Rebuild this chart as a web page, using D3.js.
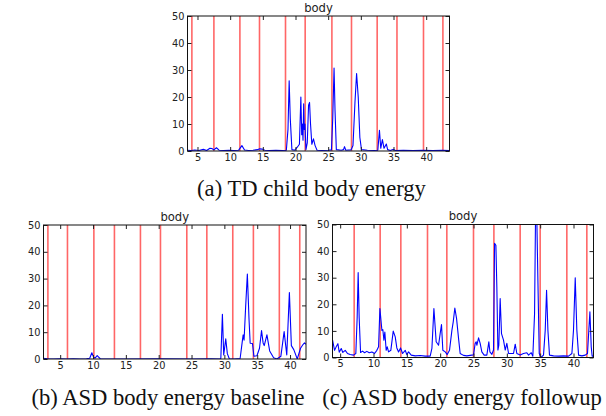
<!DOCTYPE html>
<html>
<head>
<meta charset="utf-8">
<script src="https://cdn.jsdelivr.net/npm/d3@7"></script>
<style>
  body { margin: 0; background: #fff; }
  .tick text { font-family: "DejaVu Sans", sans-serif; font-size: 9.8px; fill: #222; }
  .tick line { stroke: #222; }
  .title { font-family: "DejaVu Sans", sans-serif; font-size: 11.6px; fill: #222; }
  .caption { font-family: "Liberation Serif", "Times New Roman", serif; font-size: 22.6px; fill: #111; }
</style>
</head>
<body>
<div id="chart"></div>
<script>

      // tick labels shared by all three panels
      var xTicks = [5, 10, 15, 20, 25, 30, 35, 40];
      var yTicks = [0, 10, 20, 30, 40, 50];

      // (a) TD child body energy
      var tdX = [3.47, 4.0, 4.6, 5.2, 5.9, 6.4, 6.9, 7.2, 7.5, 7.9, 8.3, 9.0, 9.8, 10.5, 11.3, 11.8, 12.2, 12.8, 13.5, 14.2,
                 14.5, 14.9, 15.3, 16.0, 17.0, 18.0, 18.6, 18.85, 19.03, 19.2, 19.45, 19.9, 20.3, 20.6, 20.82, 20.95, 21.05, 21.15, 21.25, 21.35,
                 21.45, 21.6, 21.8, 22.0, 22.15, 22.3, 22.5, 22.75, 23.0, 23.3, 24.0, 25.0, 25.5, 25.7, 25.9, 26.05, 26.25, 27.0, 27.35, 27.5,
                 27.7, 28.5, 28.8, 29.1, 29.35, 29.6, 29.85, 30.1, 31.0, 32.0, 32.6, 32.85, 33.05, 33.3, 33.55, 33.9, 34.1, 34.5, 35.0, 35.3,
                 36.5, 38.0, 39.5, 41.0, 42.5, 43.57];
      var tdY = [0.3, 0.2, 0.4, 0.2, 0.6, 0.2, 1.0, 0.9, 0.4, 1.2, 0.3, 0.2, 0.3, 0.2, 0.3, 2.0, 0.4, 0.2, 0.3, 0.5,
                 0.8, 0.7, 0.3, 0.2, 0.3, 0.2, 0.3, 8, 26, 12, 0.5, 0.3, 1.5, 2.5, 20, 6, 10, 4, 17.5, 8,
                 10, 0.5, 3, 17, 18, 10, 2.5, 4.5, 2, 0.3, 0.2, 0.3, 0.4, 12, 30.7, 15, 0.5, 0.3, 0.5, 1.6,
                 0.3, 0.4, 2, 18, 28.7, 20, 5, 0.5, 0.3, 0.2, 0.3, 7.7, 1, 4.2, 1, 2.6, 0.5, 0.2, 0.6, 0.2,
                 0.3, 0.2, 0.3, 0.2, 0.3, 0.2];
      var tdMarks = [4.14, 7.51, 11.49, 14.49, 18.47, 21.48, 25.57, 28.57, 32.5, 35.53, 39.59, 42.56];

      // (b) ASD body energy baseline
      var asdBaseX = [2.46, 3.0, 4.0, 5.0, 6.0, 7.0, 8.0, 9.0, 9.5, 9.82, 10.1, 10.35, 10.63, 11.1, 15.0, 20.0, 25.0, 28.0, 29.3, 29.46,
                      29.7, 29.9, 30.21, 30.45, 30.75, 31.5, 32.4, 32.7, 32.86, 33.0, 33.25, 33.5, 33.75, 33.93, 34.28, 34.5, 34.96, 35.35, 35.66, 35.9,
                      36.07, 36.48, 36.9, 37.5, 38.0, 38.6, 39.1, 39.5, 39.9, 40.2, 40.57, 41.1, 41.6, 42.0, 42.2, 42.43];
      var asdBaseY = [0.3, 0.1, 0.0, 0.1, 0.0, 0.1, 0.0, 0.1, 0.3, 2.35, 0.6, 0.4, 1.3, 0.1, 0.0, 0.1, 0.0, 0.1, 0.0, 0.2,
                      16.7, 1.5, 7.5, 2, 0.1, 0.0, 0.2, 6, 9.0, 7, 20, 31.7, 15, 5.9, 5.8, 1, 1.2, 4, 10.6, 6,
                      5, 9.0, 3, 0.5, 0.0, 1, 10.2, 1.5, 24.8, 5, 3.5, 0.0, 4, 5.5, 6, 5.5];
      var asdBaseMarks = [3.13, 6.11, 10.13, 13.26, 17.22, 20.27, 24.28, 27.33, 31.28, 34.42, 38.37, 41.48];

      // (c) ASD body energy followup
      var asdFollowX = [3.86, 4.16, 4.4, 4.66, 4.86, 5.16, 5.4, 5.76, 6.1, 6.5, 7.0, 7.35, 7.55, 7.7, 7.85, 8.06, 8.36, 8.66, 9.0, 9.36,
                        9.76, 10.16, 10.5, 10.76, 10.96, 11.26, 11.4, 11.56, 11.7, 11.9, 12.06, 12.26, 12.6, 12.96, 13.26, 13.5, 13.76, 14.06, 14.36, 14.76,
                        15.0, 15.26, 15.66, 16.26, 17.0, 17.76, 18.5, 18.76, 19.06, 19.4, 19.76, 20.0, 20.2, 20.4, 20.76, 21.06, 21.4, 21.76, 21.96, 22.2,
                        22.46, 22.76, 23.0, 23.5, 24.0, 24.5, 25.0, 25.25, 25.4, 25.5, 25.76, 26.0, 26.25, 26.6, 27.0, 27.3, 27.46, 27.76, 28.0, 28.16,
                        28.36, 28.5, 28.66, 28.8, 29.0, 29.2, 29.5, 29.76, 30.0, 30.26, 30.6, 31.0, 31.26, 31.5, 32.0, 32.5, 33.0, 33.26, 33.66, 33.9,
                        34.16, 34.3, 34.5, 34.66, 34.86, 35.1, 35.5, 35.76, 35.96, 36.16, 36.4, 37.0, 37.76, 38.5, 39.26, 39.76, 40.0, 40.26, 40.5, 40.76,
                        41.26, 41.76, 42.1, 42.3, 42.46, 42.66, 42.8, 43.0];
      var asdFollowY = [6.5, 2.7, 4, 5.2, 2, 3.4, 1.9, 2.7, 1.5, 1.1, 0.9, 1.5, 15, 31.9, 15, 1.9, 2.4, 1.8, 2.3, 1.8,
                        2.1, 1.5, 2.7, 4, 18.4, 10.2, 10.5, 6.5, 9.6, 2.7, 4, 2.1, 2.7, 9.9, 7.75, 3.6, 2.1, 3.6, 1.5, 2.7,
                        1.1, 2.1, 0.9, 0.6, 0.75, 0.5, 0.5, 3.4, 18.4, 5.9, 4.6, 9, 12.4, 2.7, 2.1, 1.1, 2.7, 10.2, 13.4, 18.6,
                        14.6, 7.1, 1.5, 0.8, 0.6, 0.8, 1, 5.3, 5.9, 4.6, 7.4, 5.3, 2.1, 0.9, 0.9, 5.9, 2.1, 1.2, 2.8, 42.9,
                        42.2, 26.6, 2.8, 4.6, 22.2, 9, 6.5, 2.8, 5.3, 1.5, 1.5, 1.5, 5, 1.5, 0.9, 1.5, 1.8, 0.9, 1.8, 0.5,
                        16.5, 52, 52, 29, 1.5, 0, 0.9, 10.3, 25.3, 10.3, 0.9, 0.6, 0.5, 0.6, 0.5, 1.5, 10.3, 30, 10.3, 0.9,
                        0.6, 0.9, 1.5, 10.3, 17.2, 4, 0.5, 0.5];
      var asdFollowMarks = [7.1, 11.0, 14.1, 18.1, 21.0, 25.0, 28.06, 32.0, 35.0, 39.0, 42.0];

      var svg = d3.select("#chart").append("svg")
          .attr("width", 606)
          .attr("height", 416);

      svg.append("rect").attr("width", 606).attr("height", 416).attr("fill", "#fff");

      // one subplot: axes box, red segment lines, blue energy curve
      function drawPanel(id, box, xDomain, xs, ys, marks, caption) {

          var g = svg.append("g")
              .attr("transform", "translate(" + box.left + "," + box.top + ")");

          var xScale = d3.scaleLinear().domain(xDomain).range([0, box.width]);
          var yScale = d3.scaleLinear().domain([0, 50]).range([box.height, 0]);

          g.append("clipPath").attr("id", "clip" + id)
              .append("rect").attr("width", box.width).attr("height", box.height);

          var plot = g.append("g").attr("clip-path", "url(#clip" + id + ")");

          // red segment boundaries
          plot.selectAll("line.mark")
              .data(marks)
              .enter()
              .append("line")
              .attr("class", "mark")
              .attr("x1", function(d) { return xScale(d); })
              .attr("x2", function(d) { return xScale(d); })
              .attr("y1", 0)
              .attr("y2", box.height)
              .attr("stroke", "#ff0000")
              .attr("stroke-opacity", 0.6)
              .attr("stroke-width", 1.6);

          var points = d3.zip(xs, ys);

          var line = d3.line()
              .x(function(d) { return xScale(d[0]); })
              .y(function(d) { return yScale(d[1]); });

          plot.append("path")
              .datum(points)
              .attr("d", line)
              .attr("fill", "none")
              .attr("stroke", "#0000ff")
              .attr("stroke-width", 1.1)
              .attr("stroke-linejoin", "round");

          // ticks point inward on all four sides (matplotlib classic)
          g.append("g")
              .attr("transform", "translate(0," + box.height + ")")
              .call(d3.axisBottom(xScale).tickValues(xTicks).tickSize(-4).tickPadding(3))
              .call(function(a) { a.select(".domain").remove(); });
          g.append("g")
              .call(d3.axisTop(xScale).tickValues(xTicks).tickSize(-4).tickFormat(""))
              .call(function(a) { a.select(".domain").remove(); });
          g.append("g")
              .call(d3.axisLeft(yScale).tickValues(yTicks).tickSize(-4).tickPadding(3))
              .call(function(a) { a.select(".domain").remove(); });
          g.append("g")
              .attr("transform", "translate(" + box.width + ",0)")
              .call(d3.axisRight(yScale).tickValues(yTicks).tickSize(-4).tickFormat(""))
              .call(function(a) { a.select(".domain").remove(); });

          g.append("rect")
              .attr("width", box.width)
              .attr("height", box.height)
              .attr("fill", "none")
              .attr("stroke", "#111")
              .attr("stroke-width", 1);

          g.append("text")
              .attr("class", "title")
              .attr("x", box.width / 2)
              .attr("y", -4.5)
              .attr("text-anchor", "middle")
              .text("body");

          svg.append("text")
              .attr("class", "caption")
              .attr("x", box.capX)
              .attr("y", box.capY)
              .attr("text-anchor", "middle")
              .text(caption);
      }

      drawPanel("a", {left: 187.5, top: 16, width: 262, height: 135, capX: 311.5, capY: 196},
                [3.47, 43.57], tdX, tdY, tdMarks, "(a) TD child body energy");
      drawPanel("b", {left: 43.5, top: 225, width: 262.5, height: 134, capX: 168, capY: 405},
                [2.46, 42.43], asdBaseX, asdBaseY, asdBaseMarks, "(b) ASD body energy baseline");
      drawPanel("c", {left: 332.5, top: 224.5, width: 261, height: 133, capX: 462, capY: 405},
                [3.85, 43.0], asdFollowX, asdFollowY, asdFollowMarks, "(c) ASD body energy followup");

</script>
</body>
</html>
